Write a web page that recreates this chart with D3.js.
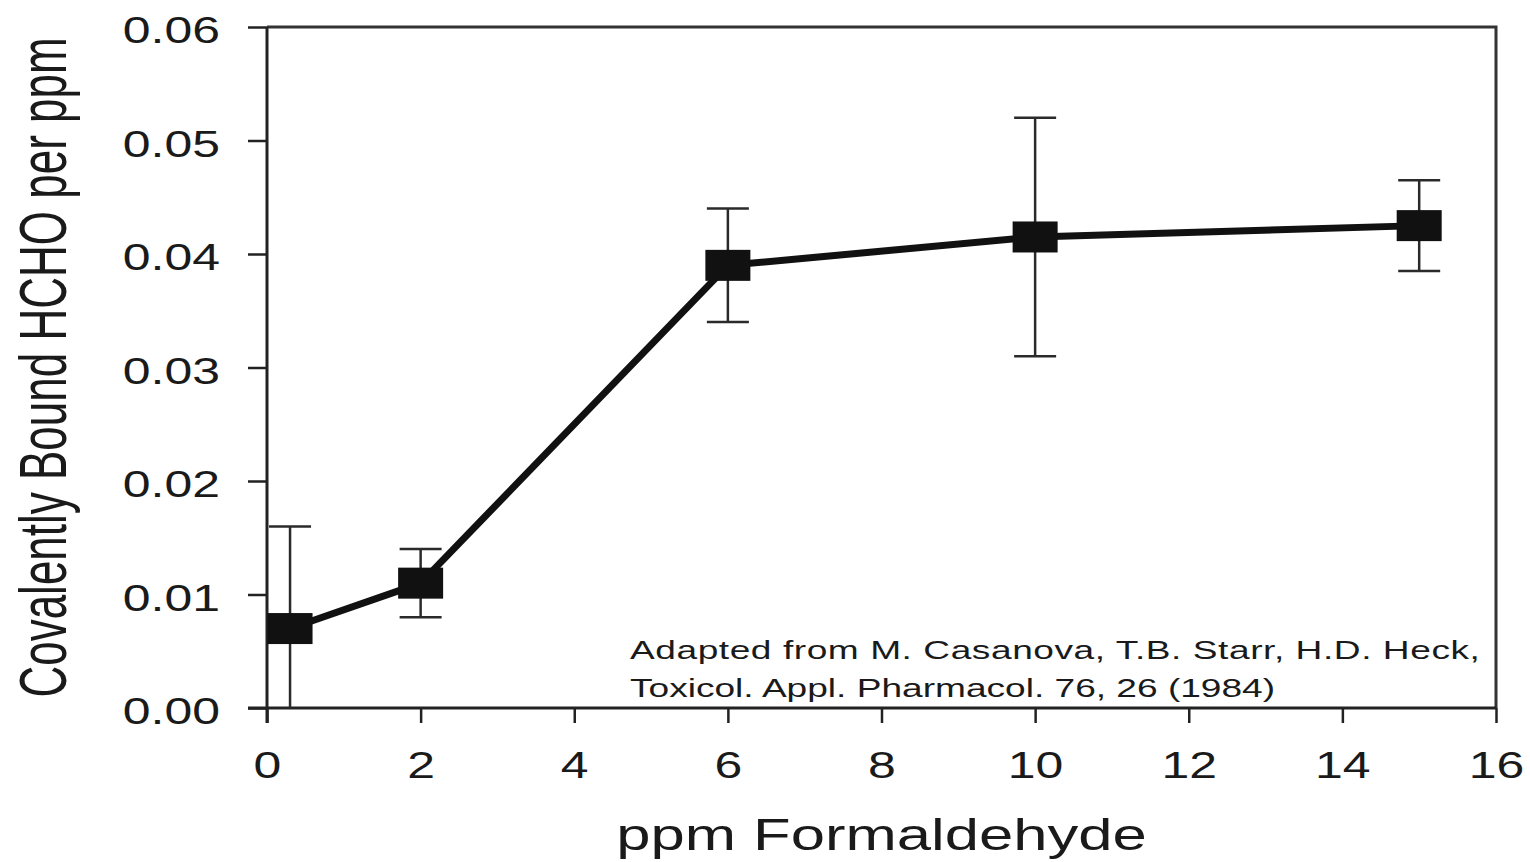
<!DOCTYPE html>
<html>
<head>
<meta charset="utf-8">
<script src="https://cdn.jsdelivr.net/npm/d3@7"></script>
<style>
  html, body { margin: 0; padding: 0; background: #fff; }
  svg { display: block; }
  text { font-family: "Liberation Sans", Arial, Helvetica, sans-serif; fill: #1a1a1a; }
</style>
</head>
<body>
<svg id="chart" width="1530" height="862"></svg>
<script>
// ---- data ----
const ppm      = [0.3, 2, 6, 10, 15];
const bound    = [0.007, 0.011, 0.039, 0.0415, 0.0425];
const errLow   = [-0.002, 0.008, 0.034, 0.031, 0.0385];
const errHigh  = [0.016, 0.014, 0.044, 0.052, 0.0465];
const xTicks   = [0, 2, 4, 6, 8, 10, 12, 14, 16];
const yTicks   = [0, 0.01, 0.02, 0.03, 0.04, 0.05, 0.06];
const xTitle   = "ppm Formaldehyde";
const yTitle   = "Covalently Bound HCHO per ppm";
const noteLines = [
  "Adapted from M. Casanova, T.B. Starr, H.D. Heck,",
  "Toxicol. Appl. Pharmacol. 76, 26 (1984)"
];

// ---- layout ----
const L = 267, R = 1496, T = 27, B = 708;
const SX = 1.4;   // horizontal stretch of text in reference
const TSX = 1.35; // stretch for tick labels
const svg = d3.select("#chart");
const x = d3.scaleLinear().domain([0, 16]).range([L, R]);
const y = d3.scaleLinear().domain([0, 0.06]).range([B, T]);

svg.append("defs").append("clipPath").attr("id", "plotclip")
  .append("rect").attr("x", L).attr("y", T).attr("width", R - L).attr("height", B - T);

// frame top & right
svg.append("path")
  .attr("d", `M${L},${T}H${R}V${B}`)
  .attr("fill", "none").attr("stroke", "#333").attr("stroke-width", 3);

// axes
const gx = svg.append("g").attr("transform", `translate(0,${B})`)
  .call(d3.axisBottom(x).tickValues(xTicks).tickSize(15).tickSizeOuter(0).tickFormat(d3.format("d")));
const gy = svg.append("g").attr("transform", `translate(${L},0)`)
  .call(d3.axisLeft(y).tickValues(yTicks).tickSize(19).tickSizeOuter(0).tickFormat(d3.format(".2f")));

[gx, gy].forEach(g => {
  g.select(".domain").attr("stroke", "#222").attr("stroke-width", 3);
  g.selectAll(".tick line").attr("stroke", "#222").attr("stroke-width", 2.5);
  g.selectAll(".tick text").attr("fill", "#1a1a1a").style("font-size", "37px")
    .style("font-family", '"Liberation Sans", Arial, sans-serif');
});
gx.selectAll(".tick text").attr("y", 70).attr("dy", 0)
  .attr("transform", `scale(${TSX},1)`);
gy.selectAll(".tick text").attr("x", -47 / TSX).attr("y", 4)
  .attr("transform", `scale(${TSX},1)`);
// extend left axis down to the x=0 tick end, bottom axis left to y=0 tick end
gy.select(".domain").attr("d", `M0,${T}V${B + 15}`);
gx.select(".domain").attr("d", `M${L - 19},0H${R}`);

// error bars
const eb = svg.append("g").attr("stroke", "#2a2a2a").attr("stroke-width", 2.5).attr("fill", "none")
  .attr("clip-path", "url(#plotclip)");
ppm.forEach((p, i) => {
  const cx = x(p);
  eb.append("line").attr("x1", cx).attr("x2", cx).attr("y1", y(errLow[i])).attr("y2", y(errHigh[i]));
  eb.append("line").attr("x1", cx - 21).attr("x2", cx + 21).attr("y1", y(errHigh[i])).attr("y2", y(errHigh[i]));
  eb.append("line").attr("x1", cx - 21).attr("x2", cx + 21).attr("y1", y(errLow[i])).attr("y2", y(errLow[i]));
});

// line
const lineGen = d3.line().x((d, i) => x(ppm[i])).y(d => y(d));
svg.append("path").datum(bound)
  .attr("d", lineGen)
  .attr("fill", "none").attr("stroke", "#111").attr("stroke-width", 7)
  .attr("stroke-linejoin", "round");

// markers
svg.append("g").selectAll("rect").data(bound).join("rect")
  .attr("x", (d, i) => x(ppm[i]) - 22.5)
  .attr("y", d => y(d) - 15.5)
  .attr("width", 45).attr("height", 31)
  .attr("fill", "#111");

// annotation
noteLines.forEach((t, i) => {
  svg.append("text")
    .attr("transform", `translate(630,${659 + i * 38}) scale(${SX},1)`)
    .style("font-size", "26.5px")
    .style("letter-spacing", i === 0 ? "0.4px" : "0px")
    .text(t);
});

// axis titles
svg.append("text")
  .attr("transform", `translate(${(L + R) / 2},850) scale(${SX},1)`)
  .attr("text-anchor", "middle")
  .style("font-size", "44px")
  .text(xTitle);

svg.append("text")
  .attr("transform", `translate(66,${(T + B) / 2}) scale(1.5,1) rotate(-90)`)
  .attr("text-anchor", "middle")
  .style("font-size", "44px")
  .text(yTitle);
</script>
</body>
</html>
